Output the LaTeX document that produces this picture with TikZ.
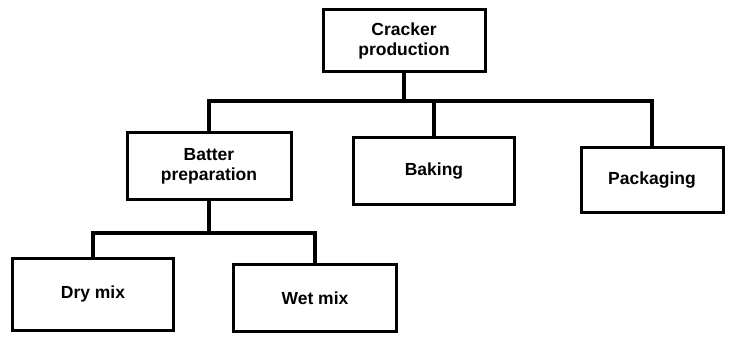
\documentclass[tikz,border=0pt]{standalone}
\usepackage{fontspec}
\setmainfont{Liberation Sans}
\begin{document}
\begin{tikzpicture}[x=1pt,y=-1pt,
  box/.style={draw=black, line width=3pt, fill=white, align=center, inner sep=0pt,
    font=\bfseries\fontsize{17.5}{20}\selectfont},
  conn/.style={draw=black, line width=3.4pt, line join=miter}]
\useasboundingbox (0,0) rectangle (732,337);
\node[box, minimum width=162, minimum height=62] (top) at (404,41) {Cracker\\production};
\node[box, minimum width=164, minimum height=67] (batter) at (209,166) {Batter\\preparation};
\node[box, minimum width=161, minimum height=67] (baking) at (434,171) {Baking};
\node[box, minimum width=142, minimum height=65] (pack) at (652,180) {Packaging};
\node[box, minimum width=161, minimum height=72] (dry) at (93,294) {Dry mix};
\node[box, minimum width=163, minimum height=67] (wet) at (315,298) {Wet mix};
\coordinate (tb) at (0,101);
\coordinate (lb) at (0,233);
\draw[conn] (top.south) -- (top.south |- tb);
\draw[conn] (batter.north) |- (pack.north |- tb) -- (pack.north);
\draw[conn] (baking.north) -- (baking.north |- tb);
\draw[conn] (batter.south) -- (batter.south |- lb);
\draw[conn] (dry.north) |- (wet.north |- lb) -- (wet.north);
\end{tikzpicture}
\end{document}
